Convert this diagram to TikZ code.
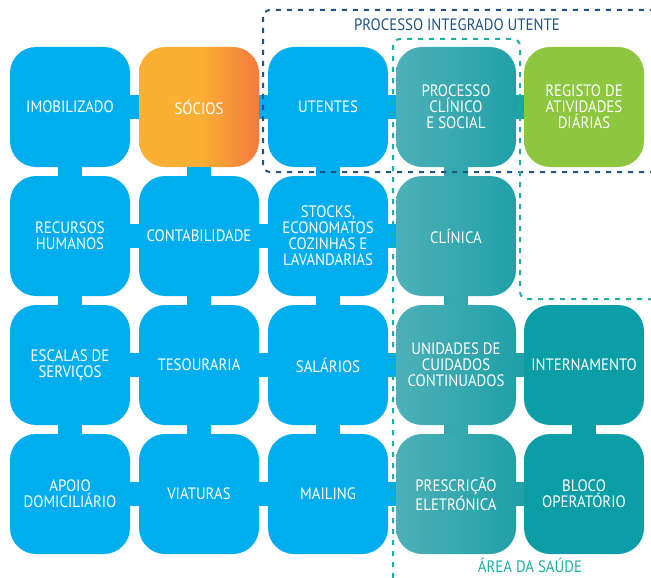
\documentclass[tikz,border=0pt]{standalone}
\usepackage{fontspec}
\setmainfont[FakeStretch=0.9]{PT Sans}
\definecolor{cblue}{HTML}{00AEEF}
\definecolor{orA}{HTML}{FBB034}
\definecolor{orB}{HTML}{F37A3E}
\definecolor{tealL}{HTML}{4DB1B7}
\definecolor{tealR}{HTML}{21A0A8}
\definecolor{tealM}{HTML}{35A8AF}
\definecolor{tealS}{HTML}{0C9EA6}
\definecolor{cgreen}{HTML}{8DC63F}
\definecolor{dblue}{HTML}{1F5285}
\definecolor{tdash}{HTML}{1DAFA0}
\begin{document}
\begin{tikzpicture}[x=1pt,y=-1pt,
  box/.style={minimum width=120pt, minimum height=120pt, rounded corners=26pt, inner sep=2pt, align=center, text=white, font=\fontsize{16.5}{16}\selectfont},
  bluebox/.style={box, fill=cblue},
  tealbox/.style={box, left color=tealL, right color=tealR},
  solidteal/.style={box, fill=tealS},
  conn/.style={line width=24pt, draw=cblue},
  tconn/.style={line width=24pt, draw=tealM},
  tconnR/.style={line width=24pt, draw=tealR},
  dashline/.style={line width=2pt, dash pattern=on 5pt off 6pt, rounded corners=7pt}
]
\useasboundingbox (0,0) rectangle (651,578);
% row 1
\node[bluebox] (imo) at (70,107) {IMOBILIZADO};
\node[box, left color=orA, right color=orB, middle color=orA] (soc) at (199,107) {SÓCIOS};
\node[bluebox] (ute) at (328,107) {UTENTES};
\node[tealbox] (pcs) at (456,107) {PROCESSO\\CLÍNICO\\E SOCIAL};
\node[box, fill=cgreen] (reg) at (584,107) {REGISTO DE\\ATIVIDADES\\DIÁRIAS};
% row 2
\node[bluebox] (rh) at (70,236) {RECURSOS\\HUMANOS};
\node[bluebox] (cont) at (199,236) {CONTABILIDADE};
\node[bluebox] (stk) at (328,236) {STOCKS,\\ECONOMATOS\\COZINHAS E\\LAVANDARIAS};
\node[tealbox] (cli) at (456,236) {CLÍNICA};
% row 3
\node[bluebox] (esc) at (70,365) {ESCALAS DE\\SERVIÇOS};
\node[bluebox] (tes) at (199,365) {TESOURARIA};
\node[bluebox] (sal) at (328,365) {SALÁRIOS};
\node[tealbox] (ucc) at (456,365) {UNIDADES DE\\CUIDADOS\\CONTINUADOS};
\node[solidteal] (int) at (584,365) {INTERNAMENTO};
% row 4
\node[bluebox] (apo) at (70,494) {APOIO\\DOMICILIÁRIO};
\node[bluebox] (via) at (199,494) {VIATURAS};
\node[bluebox] (mai) at (328,494) {MAILING};
\node[tealbox] (pre) at (456,494) {PRESCRIÇÃO\\ELETRÓNICA};
\node[solidteal] (blo) at (584,494) {BLOCO\\OPERATÓRIO};
% horizontal connectors
\draw[conn] (imo) -- (soc);
\draw[conn] (soc) -- (ute);
\draw[conn] (ute) -- (pcs);
\draw[tconnR] (pcs) -- (reg);
\draw[conn] (rh) -- (cont);
\draw[conn] (cont) -- (stk);
\draw[conn] (stk) -- (cli);
\draw[conn] (esc) -- (tes);
\draw[conn] (tes) -- (sal);
\draw[conn] (sal) -- (ucc);
\draw[tconnR] (ucc) -- (int);
\draw[conn] (apo) -- (via);
\draw[conn] (via) -- (mai);
\draw[conn] (mai) -- (pre);
\draw[tconnR] (pre) -- (blo);
% vertical connectors
\draw[conn] (imo) -- (rh);
\draw[conn] (rh) -- (esc);
\draw[conn] (esc) -- (apo);
\draw[conn] (soc) -- (cont);
\draw[conn] (cont) -- (tes);
\draw[conn] (tes) -- (via);
\draw[conn] (ute) -- (stk);
\draw[conn] (stk) -- (sal);
\draw[conn] (sal) -- (mai);
\draw[tconn] (pcs) -- (cli);
\draw[tconn] (cli) -- (ucc);
\draw[tconn] (ucc) -- (pre);
\draw[draw=tealS, line width=24pt] (int) -- (blo);
% dashed groups
\draw[dashline, draw=dblue] (263,10) rectangle (657,172);
\node[text=dblue, font=\fontsize{16.5}{16}\selectfont] (piu) at (457,25) {PROCESSO INTEGRADO UTENTE};
\draw[dashline, draw=tdash] (393,600) -- (393,39) -- (520,39) -- (520,299) -- (656,299) -- (656,600);
\node[text=tdash, font=\fontsize{16.5}{16}\selectfont] (ads) at (530,565) {ÁREA DA SAÚDE};
\end{tikzpicture}
\end{document}
